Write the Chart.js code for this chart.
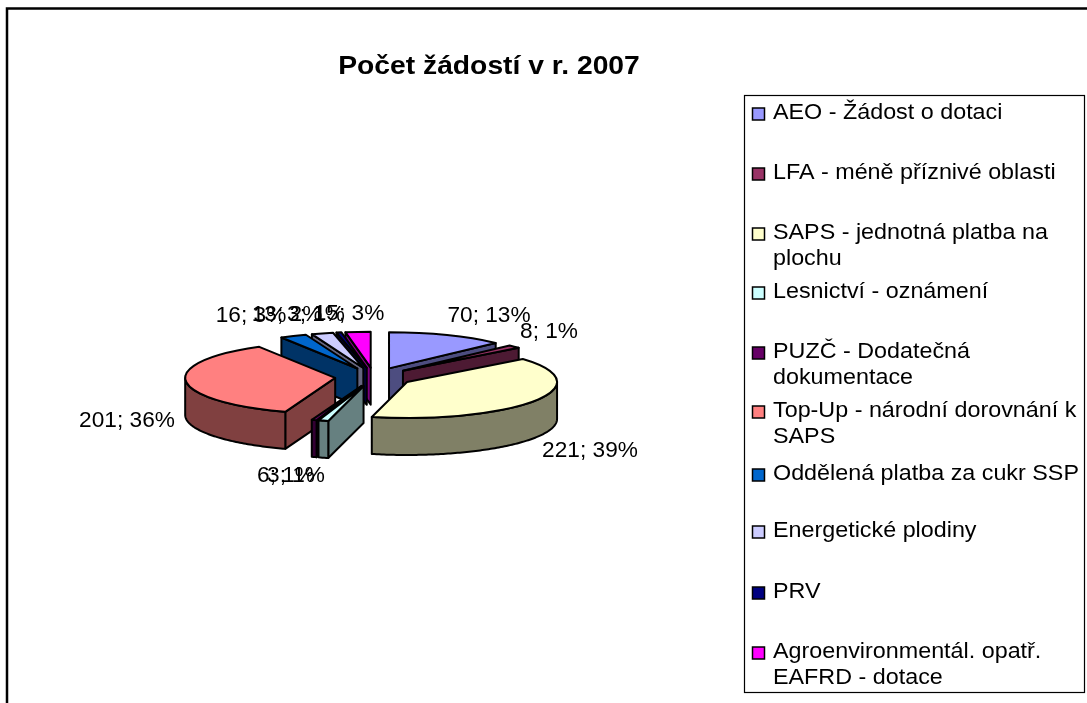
<!DOCTYPE html>
<html><head><meta charset="utf-8">
<style>html,body{margin:0;padding:0;background:#fff}#w{position:relative;width:1087px;height:703px;overflow:hidden}canvas{display:block}</style>
<script src="https://cdn.jsdelivr.net/npm/chart.js@4"></script>
</head><body><div id="w"><canvas id="c" width="1087" height="703"></canvas></div>
<script>
const chartTitle = 'Počet žádostí v r. 2007';
const categories = ['AEO - Žádost o dotaci','LFA - méně příznivé oblasti','SAPS - jednotná platba na plochu','Lesnictví - oznámení','PUZČ - Dodatečná dokumentace','Top-Up - národní dorovnání k SAPS','Oddělená platba za cukr SSP','Energetické plodiny','PRV','Agroenvironmentál. opatř. EAFRD - dotace'];
const values = [70,8,221,6,3,201,16,13,3,15];
const percents = [13,1,39,1,1,36,3,2,1,3];
const colors = ['#9999FF','#993366','#FFFFCC','#CCFFFF','#660066','#FF8080','#0066CC','#CCCCFF','#000080','#FF00FF'];
const sideColors = ['#4D4D80','#4D1A33','#808066','#668080','#330033','#804040','#003366','#666680','#000040','#800080'];
// layout of the chart furniture (not data)
const legendLines = [['AEO - Žádost o dotaci'],['LFA - méně příznivé oblasti'],['SAPS - jednotná platba na','plochu'],['Lesnictví - oznámení'],['PUZČ - Dodatečná','dokumentace'],['Top-Up - národní dorovnání k','SAPS'],['Oddělená platba za cukr SSP'],['Energetické plodiny'],['PRV'],['Agroenvironmentál. opatř.','EAFRD - dotace']];
const legendRowY = [113,173,233,292,352,411,474,531,592,652];
const labelCenters = [[489,316],[549,332],[590,451],[286,476],[296,476],[127,421],[251,316],[287,315],[316,315],[349,314]];
const PIE = {radius:150, squash:0.24, depth:37, explode:39};

function stretched(ctx,text,x,y,sx){
  ctx.save();ctx.translate(x,y);ctx.scale(sx,1);ctx.fillText(text,0,0);ctx.restore();
}
const pie3d = {
  id:'pie3d',
  beforeDatasetsDraw(chart){
    const ctx = chart.ctx, meta = chart.getDatasetMeta(0), k = PIE.squash, D = PIE.depth;
    const order = meta.data.map((a,i)=>i).sort((p,q)=>{
      const m=i=>(meta.data[i].startAngle+meta.data[i].endAngle)/2;
      return Math.sin(m(p))-Math.sin(m(q));});
    ctx.save();
    ctx.lineJoin='round'; ctx.lineWidth=2; ctx.strokeStyle='#000';
    for(const i of order){
      const arc = meta.data[i];
      const {startAngle:s,endAngle:e,outerRadius:R,x,y} = arc;
      const mid=(s+e)/2;
      const ax = x+Math.cos(mid)*PIE.explode, ay = y+Math.sin(mid)*PIE.explode*k;
      const P = t=>[ax+R*Math.cos(t), ay+R*k*Math.sin(t)];
      const poly = pts=>{ctx.beginPath();pts.forEach((p,n)=>n?ctx.lineTo(p[0],p[1]):ctx.moveTo(p[0],p[1]));ctx.closePath();ctx.fillStyle=sideColors[i];ctx.fill();ctx.stroke();};
      if(-Math.cos(s)>0){const p=P(s);poly([[ax,ay],p,[p[0],p[1]+D],[ax,ay+D]]);}
      if(Math.cos(e)>0){const p=P(e);poly([[ax,ay],p,[p[0],p[1]+D],[ax,ay+D]]);}
      const TAU=Math.PI*2;
      for(let n=-1;n<=1;n++){
        const lo=Math.max(s,n*TAU), hi=Math.min(e,n*TAU+Math.PI);
        if(hi>lo){
          const pts=[];const steps=Math.max(2,Math.ceil((hi-lo)*60));
          for(let j=0;j<=steps;j++)pts.push(P(lo+(hi-lo)*j/steps));
          for(let j=steps;j>=0;j--){const p=P(lo+(hi-lo)*j/steps);pts.push([p[0],p[1]+D]);}
          poly(pts);
        }
      }
      ctx.save();
      ctx.translate(ax,ay); ctx.scale(1,k); ctx.translate(-x,-y);
      arc.draw(ctx);
      ctx.beginPath();
      ctx.moveTo(x,y); ctx.arc(x,y,R,s,e); ctx.closePath();
      ctx.restore();
      ctx.stroke();
    }
    ctx.restore();
    return false;
  },
  afterDraw(chart){
    const ctx=chart.ctx; ctx.save();
    ctx.strokeStyle='#000'; ctx.lineWidth=2.5;
    ctx.beginPath();ctx.moveTo(7,703);ctx.lineTo(7,8.5);ctx.lineTo(1087,8.5);ctx.stroke();
    ctx.fillStyle='#000'; ctx.textBaseline='middle'; ctx.textAlign='center';
    ctx.font='bold 26px "Liberation Sans"';
    stretched(ctx,chartTitle,489,67,1.087);
    ctx.font='22px "Liberation Sans"';
    values.forEach((v,i)=>stretched(ctx,v+'; '+percents[i]+'%',labelCenters[i][0],labelCenters[i][1],1.03));
    ctx.fillStyle='#fff';ctx.lineWidth=1.2;ctx.fillRect(744.5,95.5,340,597);ctx.strokeRect(744.5,95.5,340,597);
    ctx.textAlign='left';
    legendLines.forEach((ls,i)=>{
      const y=legendRowY[i];
      ctx.fillStyle=colors[i];ctx.strokeStyle='#000';ctx.lineWidth=1.5;
      ctx.fillRect(752.5,y-5,12,12);ctx.strokeRect(752.5,y-5,12,12);
      ctx.fillStyle='#000';
      ls.forEach((t,j)=>stretched(ctx,t,773,y+j*25.5,1.06));
    });
    ctx.restore();
  }
};
new Chart(document.getElementById('c'),{
  type:'pie',
  data:{labels:categories,datasets:[{data:values,backgroundColor:colors,borderWidth:0,radius:PIE.radius}]},
  options:{responsive:false,animation:false,rotation:0,
    layout:{padding:{left:0,right:339,top:51,bottom:0}},
    plugins:{legend:{display:false},title:{display:false},tooltip:{enabled:false}}},
  plugins:[pie3d]
});
</script></body></html>
